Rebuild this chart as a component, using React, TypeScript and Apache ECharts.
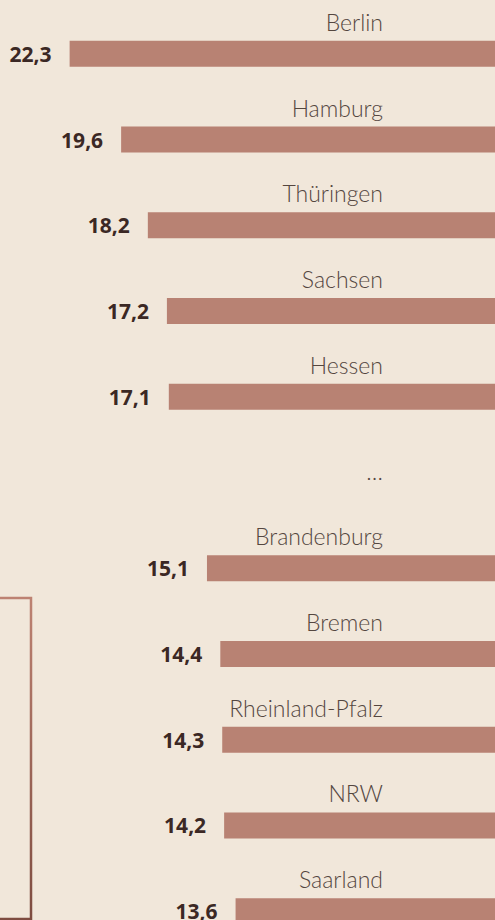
import React, { useEffect, useRef } from "react";
import * as echarts from "echarts";

const categories = [
  "Berlin",
  "Hamburg",
  "Thüringen",
  "Sachsen",
  "Hessen",
  "…",
  "Brandenburg",
  "Bremen",
  "Rheinland-Pfalz",
  "NRW",
  "Saarland",
];
const values: (number | string)[] = [22.3, 19.6, 18.2, 17.2, 17.1, "-", 15.1, 14.4, 14.3, 14.2, 13.6];

const BG = "#f1e7da";
const BAR = "#b88273";

export default function App() {
  const ref = useRef<HTMLDivElement>(null);
  useEffect(() => {
    document.body.style.margin = "0";
    document.body.style.background = BG;
    const chart = echarts.init(ref.current!, undefined, { renderer: "svg" });
    chart.setOption({
      animation: false,
      backgroundColor: BG,
      grid: {
        left: 0,
        right: 0,
        top: 11,
        height: 943,
        containLabel: false,
        outerBoundsMode: "none",
      },
      xAxis: { type: "value", inverse: true, min: 0, max: 25.95, show: false },
      yAxis: {
        type: "category",
        data: categories,
        inverse: true,
        position: "right",
        axisLine: { show: false },
        axisTick: { show: false },
        splitLine: { show: false },
        axisLabel: {
          inside: true,
          margin: 112,
          align: "right",
          verticalAlign: "middle",
          formatter: (v: string) => (v === "…" ? `{d|${v}}` : `{n|${v}}`),
          rich: {
            n: {
              fontFamily: "Lato",
              fontWeight: 300,
              fontSize: 23,
              color: "#54463f",
              padding: [0, 0, 64, 0],
            },
            d: {
              fontFamily: "Lato",
              fontWeight: 300,
              fontSize: 23,
              color: "#54463f",
              padding: [0, 0, 24, 0],
            },
          },
        },
      },
      series: [
        {
          type: "bar",
          data: values,
          barWidth: 26,
          itemStyle: { color: BAR },
          label: {
            show: true,
            position: "left",
            distance: 18,
            fontFamily: "Open Sans",
            fontWeight: "bold",
            fontSize: 21,
            color: "#3b2824",
            formatter: (p: any) => Number(p.value).toFixed(1).replace(".", ","),
          },
        },
      ],
      graphic: [
        {
          type: "polyline",
          shape: { points: [[0, 598], [31, 598], [31, 919], [0, 919]] },
          style: {
            fill: null,
            lineWidth: 2.5,
            stroke: new echarts.graphic.LinearGradient(0, 0, 0, 1, [
              { offset: 0, color: "#bd8272" },
              { offset: 1, color: "#7e4c40" },
            ]),
          },
        },
      ],
    });
    return () => chart.dispose();
  }, []);
  return <div ref={ref} style={{ position: "fixed", left: 0, top: 0, width: 495, height: 920 }} />;
}
